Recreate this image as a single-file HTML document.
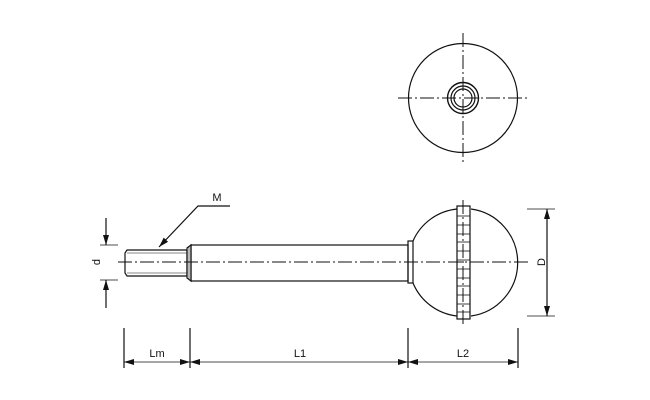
<!DOCTYPE html>
<html><head><meta charset="utf-8"><style>html,body{margin:0;padding:0;background:#fff}svg{display:block}</style></head><body>
<svg width="650" height="400" viewBox="0 0 650 400" xmlns="http://www.w3.org/2000/svg" font-family="Liberation Sans, sans-serif">
<defs>
<marker id="a" viewBox="0 0 10 6" refX="10" refY="3" markerWidth="10" markerHeight="6" markerUnits="userSpaceOnUse" orient="auto-start-reverse"><path d="M0,0 L10,3 L0,6 Z" fill="#111"/></marker>
</defs>
<g stroke="#111" fill="none" stroke-width="1.2">
<circle cx="463" cy="98" r="54.5"/>
<circle cx="463" cy="98" r="15.5" stroke-width="1.4"/>
<circle cx="463" cy="98" r="12"/>
<circle cx="463" cy="98" r="9"/>
<g stroke-dasharray="14,3,2,3" stroke-width="1">
<line x1="398" y1="98" x2="530" y2="98"/>
<line x1="463" y1="33" x2="463" y2="164"/>
</g>
<path d="M127,250 L187,250 L187,276 L127,276 L125,273 L125,253 Z"/>
<line x1="127" y1="253" x2="187" y2="253" stroke-width="0.6"/>
<line x1="127" y1="273" x2="187" y2="273" stroke-width="0.6"/>
<path d="M187,248 L191,245 L191,281 L187,278 Z"/>
<line x1="189" y1="247" x2="189" y2="279" stroke-width="0.6"/>
<rect x="191" y="245" width="217" height="36"/>
<rect x="408" y="241" width="5" height="42"/>
<path d="M413,241 A54,54 0 0 1 457,209 M471,209 A54,54 0 0 1 471,316 M457,316 A54,54 0 0 1 413,283"/>
<rect x="457" y="206" width="13" height="113"/>
<g stroke-width="0.8">
<line x1="457" y1="216" x2="470" y2="216"/><line x1="457" y1="225" x2="470" y2="225"/>
<line x1="457" y1="234" x2="470" y2="234"/><line x1="457" y1="242" x2="470" y2="242"/>
<line x1="457" y1="251" x2="470" y2="251"/><line x1="457" y1="260" x2="470" y2="260"/>
<line x1="457" y1="269" x2="470" y2="269"/><line x1="457" y1="278" x2="470" y2="278"/>
<line x1="457" y1="286" x2="470" y2="286"/><line x1="457" y1="295" x2="470" y2="295"/>
<line x1="457" y1="304" x2="470" y2="304"/><line x1="457" y1="312" x2="470" y2="312"/>
</g>
<g stroke-dasharray="14,3,2,3" stroke-width="1">
<line x1="118" y1="262" x2="530" y2="262"/>
<line x1="463" y1="200" x2="463" y2="327"/>
</g>
<line x1="100" y1="245" x2="118" y2="245" stroke-width="0.8"/>
<line x1="100" y1="280" x2="118" y2="280" stroke-width="0.8"/>
<line x1="106" y1="218" x2="106" y2="245" marker-end="url(#a)"/>
<line x1="106" y1="308" x2="106" y2="280" marker-end="url(#a)"/>
<line x1="527" y1="209" x2="555" y2="209" stroke-width="0.8"/>
<line x1="527" y1="316" x2="555" y2="316" stroke-width="0.8"/>
<line x1="547" y1="209" x2="547" y2="316" marker-start="url(#a)" marker-end="url(#a)"/>
<polyline points="230,206 198,206 159,247" marker-end="url(#a)" fill="none"/>
<line x1="124" y1="328" x2="124" y2="368"/>
<line x1="190" y1="328" x2="190" y2="368"/>
<line x1="408" y1="328" x2="408" y2="368"/>
<line x1="518" y1="328" x2="518" y2="368"/>
<line x1="124" y1="362" x2="190" y2="362" stroke-width="0.8" marker-start="url(#a)" marker-end="url(#a)"/>
<line x1="190" y1="362" x2="408" y2="362" stroke-width="0.8" marker-start="url(#a)" marker-end="url(#a)"/>
<line x1="408" y1="362" x2="518" y2="362" stroke-width="0.8" marker-start="url(#a)" marker-end="url(#a)"/>
</g>
<g fill="#111" font-size="11" text-anchor="middle">
<text x="157" y="357">Lm</text>
<text x="300" y="357">L1</text>
<text x="463" y="357">L2</text>
<text x="217" y="201">M</text>
<text transform="translate(100,262) rotate(-90)" y="0">d</text>
<text transform="translate(545,262) rotate(-90)" y="0">D</text>
</g>
</svg>
</body></html>
